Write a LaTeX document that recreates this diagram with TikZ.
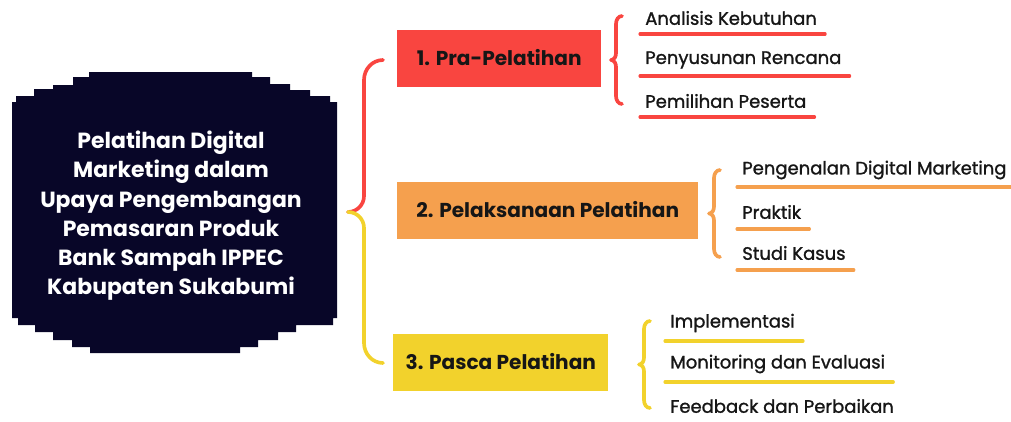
\documentclass[tikz,border=0pt]{standalone}
\usepackage{fontspec}
\setmainfont{Poppins}
\newfontfamily\itemfont[FakeBold=1.3]{Poppins}
\usetikzlibrary{calc}
\definecolor{navy}{RGB}{8,6,40}
\definecolor{prared}{RGB}{249,69,64}
\definecolor{pelorange}{RGB}{245,160,78}
\definecolor{pasyellow}{RGB}{242,210,44}
\definecolor{ink}{RGB}{22,22,22}
% curly brace pointing left: x, top, bottom, colour
\newcommand{\drawsubbrace}[4]{
  \pgfmathsetmacro{\ymid}{(#2+#3)/2}
  \draw[bracestroke, #4] (#1+9,#2) to[out=180,in=90] (#1+3,#2+8)
    -- (#1+3,\ymid-7) to[out=-90,in=0] (#1-2,\ymid)
    to[out=0,in=90] (#1+3,\ymid+7) -- (#1+3,#3-8)
    to[out=-90,in=180] (#1+9,#3);
}

\begin{document}
\begin{tikzpicture}[x=0.025cm, y=-0.025cm,
    bracestroke/.style={line width=2.6pt, line cap=round, line join=round},
    uline/.style={line width=2.2pt, line cap=round},
    heading/.style={anchor=west, minimum height=57*0.025cm, inner sep=0pt,
      font=\bfseries\fontsize{14.3}{17}\selectfont, text=ink},
    item/.style={anchor=west, inner xsep=5*0.025cm, inner ysep=0pt,
      font=\itemfont\fontsize{12.8}{15}\selectfont, text=ink}
  ]
  \useasboundingbox (0,0) rectangle (1011,421);

  % The topic, on a stepped dark card
  \fill[navy] (12,318) -- (12,102) -- (16,102) -- (16,96) -- (34,96) -- (34,89)
    -- (53,89) -- (53,85) -- (73,85) -- (73,77) -- (89,77) -- (89,72)
    -- (252,72) -- (252,77) -- (270,77) -- (270,84) -- (290,84) -- (290,90)
    -- (310,90) -- (310,96) -- (330,96) -- (330,102) -- (337,102)
    -- (337,318) -- (333,318) -- (333,325) -- (296,325) -- (296,332)
    -- (278,332) -- (278,340) -- (258,340) -- (258,347) -- (240,347)
    -- (240,353) -- (90,353) -- (90,347) -- (72,347) -- (72,340) -- (53,340)
    -- (53,332) -- (35,332) -- (35,325) -- (18,325) -- (18,318) -- cycle;
  \node[align=center, text=white, font=\bfseries\fontsize{15.6}{20.8}\selectfont]
    (topic) at (171,216) {Pelatihan Digital\\Marketing dalam\\Upaya Pengembangan\\
      Pemasaran Produk\\Bank Sampah IPPEC\\Kabupaten Sukabumi};

  % The three stages
  \node[heading, fill=prared, minimum width=204*0.025cm] (h1) at (397,58)
    {1. Pra-Pelatihan};
  \node[heading, fill=pelorange, minimum width=301*0.025cm] (h2) at (397,210)
    {2. Pelaksanaan Pelatihan};
  \node[heading, fill=pasyellow, minimum width=215*0.025cm] (h3) at (393,362)
    {3. Pasca Pelatihan};

  % Bracket from the topic to the first and the last stage
  \coordinate (mtop) at ($(h1.west)+(-14,2)$);
  \coordinate (mbot) at ($(h3.west)+(-10,1)$);
  \coordinate (mtip) at (348,212);
  \draw[bracestroke, prared] (mtop) to[out=180,in=90] (364,80)
    -- (364,196) to[out=-90,in=0] (mtip);
  \draw[bracestroke, pasyellow] (mtip) to[out=0,in=90] (364,228)
    -- (364,343) to[out=-90,in=180] (mbot);

  % Steps of each stage, underlined in the colour of the stage
  \drawsubbrace{613}{16}{104}{prared}
  \foreach \name/\y/\txt in {a1/18/Analisis Kebutuhan,
      a2/60/Penyusunan Rencana, a3/101/Pemilihan Peserta} {
    \node[item] (\name) at (640,\y) {\txt};
    \draw[uline, prared] ($(\name.west)+(0,16)$) -- ($(\name.east)+(3,16)$);
  }
  \drawsubbrace{711}{170}{257}{pelorange}
  \foreach \name/\y/\txt in {b1/170/Pengenalan Digital Marketing,
      b2/212/Praktik, b3/253/Studi Kasus} {
    \node[item] (\name) at (737,\y) {\txt};
    \draw[uline, pelorange] ($(\name.west)+(0,17)$) -- ($(\name.east)+(3,17)$);
  }
  \drawsubbrace{641}{321}{408}{pasyellow}
  \foreach \name/\y/\txt in {c1/323/Implementasi,
      c2/364/Monitoring dan Evaluasi} {
    \node[item] (\name) at (665,\y) {\txt};
    \draw[uline, pasyellow] ($(\name.west)+(0,18)$) -- ($(\name.east)+(3,18)$);
  }
  \node[item] (c3) at (665,406) {Feedback dan Perbaikan};
\end{tikzpicture}
\end{document}
